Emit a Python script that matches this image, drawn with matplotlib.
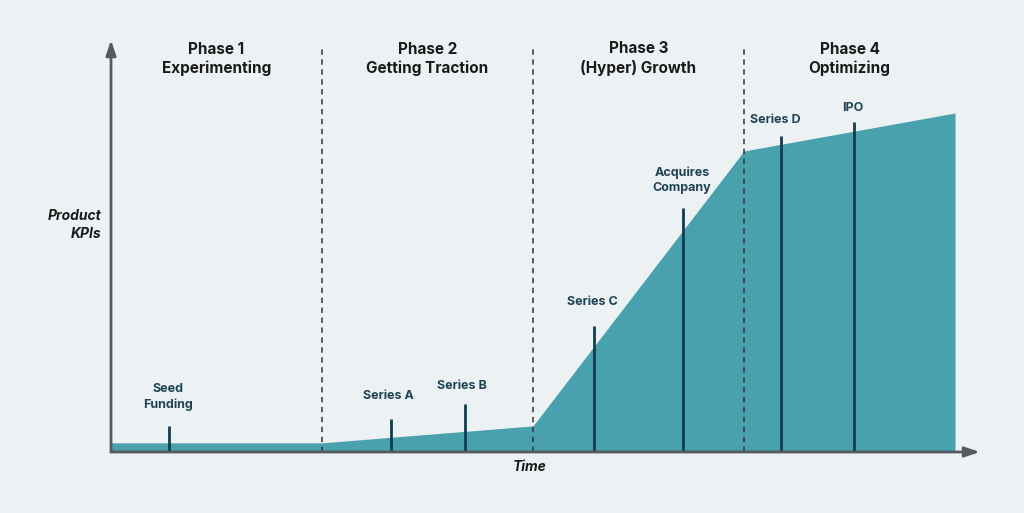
import matplotlib.pyplot as plt

# time in phase units, KPI as % of final level
curve_t = [0, 1, 2, 3, 4]
curve_kpi = [2.7, 2.7, 7.7, 88.8, 100]

phase_bounds = [1, 2, 3]
phase_titles = ["Phase 1\nExperimenting", "Phase 2\nGetting Traction",
                "Phase 3\n(Hyper) Growth", "Phase 4\nOptimizing"]
phase_centers = [0.5, 1.5, 2.5, 3.5]

milestones = ["Seed\nFunding", "Series A", "Series B", "Series C",
              "Acquires\nCompany", "Series D", "IPO"]
milestone_t = [0.275, 1.327, 1.678, 2.289, 2.711, 3.175, 3.521]
milestone_h = [7.7, 9.7, 14.2, 37.2, 72.0, 93.2, 97.3]
label_t = [0.27, 1.313, 1.664, 2.28, 2.706, 3.15, 3.516]
label_kpi = [16.2, 16.5, 19.5, 44.2, 80.1, 97.9, 101.5]

bg = "#ECF1F4"
fill_col = "#48A1AD"
dark = "#0F3D4F"
label_col = "#1E4454"
axis_col = "#555B60"

plt.rcParams['font.family'] = ['Inter', 'DejaVu Sans']

fig = plt.figure(figsize=(10.24, 5.13), dpi=100, facecolor=bg)
ax = fig.add_axes([111/1024, 61/513, 869/1024, 412/513])
ax.set_facecolor(bg)
ax.set_xlim(0, 869/211)
ax.set_ylim(0, 412/3.39)
for s in ax.spines.values():
    s.set_visible(False)
ax.set_xticks([])
ax.set_yticks([])

ax.fill_between(curve_t, 0, curve_kpi, color=fill_col, lw=0)

for b in phase_bounds:
    ax.plot([b, b], [0, 120], ls=(0, (3.5, 3)), color="#333333", lw=1.1)

for c, title in zip(phase_centers, phase_titles):
    ax.text(c, 116.0, title, ha="center", va="center", fontsize=11,
            fontweight="bold", color="#1a1a1a", linespacing=1.3)

for t, h in zip(milestone_t, milestone_h):
    ax.plot([t, t], [0, h], color=dark, lw=2, solid_capstyle="butt")

for t, y, name in zip(label_t, label_kpi, milestones):
    ax.text(t, y, name, ha="center", va="center", fontsize=9,
            fontweight="bold", color=label_col, linespacing=1.3)

# axes arrows
ax.annotate("", xy=(869/211, 0), xytext=(0, 0),
            arrowprops=dict(arrowstyle="-|>,head_length=0.9,head_width=0.3",
                            color=axis_col, lw=2, shrinkA=0, shrinkB=0))
ax.annotate("", xy=(0, 412/3.39), xytext=(0, 0),
            arrowprops=dict(arrowstyle="-|>,head_length=0.9,head_width=0.3",
                            color=axis_col, lw=2, shrinkA=0, shrinkB=0))

ax.text(1.985, -4.5, "Time", ha="center", va="center", fontsize=10,
        fontweight="bold", style="italic", color="#1a1a1a")
ax.text(-0.045, 67.0, "Product\nKPIs", ha="right", va="center", fontsize=10,
        fontweight="bold", style="italic", color="#1a1a1a", linespacing=1.3)

fig.savefig("out.png", dpi=100, facecolor=bg)
